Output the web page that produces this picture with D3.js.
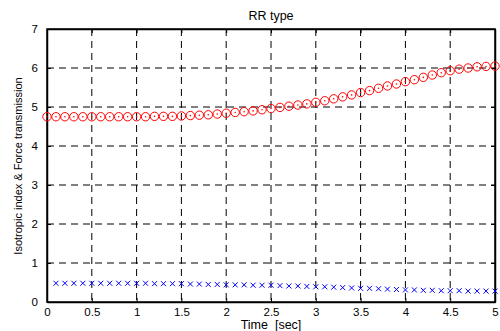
<!DOCTYPE html>
<html><head><meta charset="utf-8">
<script src="https://cdn.jsdelivr.net/npm/d3@7"></script>
<style>body{margin:0;background:#fff}svg{display:block}text{font-family:"Liberation Sans",Arial,sans-serif}</style>
</head><body><svg id="c" width="500" height="331"></svg>
<script>
const title = "RR type";
const xLabel = "Time  [sec]";
const yLabel = "Isotropic index & Force transmission";
const xTicks = [0,0.5,1,1.5,2,2.5,3,3.5,4,4.5,5];
const yTicks = [0,1,2,3,4,5,6,7];
const timeRed = [0,0.1,0.2,0.3,0.4,0.5,0.6,0.7,0.8,0.9,1,1.1,1.2,1.3,1.4,1.5,1.6,1.7,1.8,1.9,2,2.1,2.2,2.3,2.4,2.5,2.6,2.7,2.8,2.9,3,3.1,3.2,3.3,3.4,3.5,3.6,3.7,3.8,3.9,4,4.1,4.2,4.3,4.4,4.5,4.6,4.7,4.8,4.9,5];
const forceTrans = [4.75,4.75,4.75,4.75,4.75,4.75,4.75,4.75,4.75,4.75,4.75,4.75,4.76,4.76,4.76,4.77,4.78,4.79,4.8,4.82,4.84,4.86,4.88,4.9,4.93,4.96,4.99,5.02,5.05,5.08,5.12,5.16,5.21,5.26,5.31,5.37,5.42,5.48,5.54,5.59,5.65,5.7,5.76,5.82,5.88,5.93,5.97,6.0,6.03,6.04,6.05];
const timeBlue = [0.1,0.2,0.3,0.4,0.5,0.6,0.7,0.8,0.9,1,1.1,1.2,1.3,1.4,1.5,1.6,1.7,1.8,1.9,2,2.1,2.2,2.3,2.4,2.5,2.6,2.7,2.8,2.9,3,3.1,3.2,3.3,3.4,3.5,3.6,3.7,3.8,3.9,4,4.1,4.2,4.3,4.4,4.5,4.6,4.7,4.8,4.9,5];
const isoIndex = [0.48,0.48,0.48,0.48,0.48,0.48,0.48,0.48,0.48,0.48,0.48,0.47,0.47,0.47,0.47,0.46,0.46,0.45,0.45,0.44,0.44,0.44,0.43,0.43,0.43,0.42,0.41,0.41,0.4,0.39,0.39,0.38,0.37,0.36,0.35,0.35,0.34,0.33,0.32,0.31,0.31,0.3,0.3,0.29,0.29,0.29,0.28,0.28,0.28,0.28];

const L=47, R=495, T=29, B=302;
const svg = d3.select("#c");
const x = d3.scaleLinear().domain([0,5]).range([L,R]);
const y = d3.scaleLinear().domain([0,7]).range([B,T]);

// grid
const g = svg.append("g");
g.selectAll("line.gx").data(xTicks.slice(1,-1)).enter().append("line")
 .attr("x1",d=>x(d)).attr("x2",d=>x(d)).attr("y1",T).attr("y2",B)
 .attr("stroke","#000").attr("stroke-width",1).attr("stroke-dasharray","7,5");
g.selectAll("line.gy").data(yTicks.slice(1,-1)).enter().append("line")
 .attr("y1",d=>y(d)).attr("y2",d=>y(d)).attr("x1",L).attr("x2",R)
 .attr("stroke","#000").attr("stroke-width",1).attr("stroke-dasharray","7,5");

// axes
const fmt = d=>String(d);
const xa = svg.append("g").attr("transform",`translate(0,${B})`)
 .call(d3.axisBottom(x).tickValues(xTicks).tickFormat(fmt).tickSizeInner(-4).tickSizeOuter(0).tickPadding(6));
const xt = svg.append("g").attr("transform",`translate(0,${T})`)
 .call(d3.axisTop(x).tickValues(xTicks).tickFormat("").tickSizeInner(-4).tickSizeOuter(0));
const ya = svg.append("g").attr("transform",`translate(${L},0)`)
 .call(d3.axisLeft(y).tickValues(yTicks).tickFormat(fmt).tickSizeInner(-4).tickSizeOuter(0).tickPadding(9));
const yr = svg.append("g").attr("transform",`translate(${R},0)`)
 .call(d3.axisRight(y).tickValues(yTicks).tickFormat("").tickSizeInner(-4).tickSizeOuter(0));
[xa,xt,ya,yr].forEach(a=>{
  a.selectAll("path").attr("stroke","#000").attr("stroke-width",1.5);
  a.selectAll("line").attr("stroke","#000");
  a.selectAll("text").attr("fill","#000").style("font-size","11.5px").style("font-family","Liberation Sans, Arial, sans-serif");
});
svg.append("rect").attr("x",L).attr("y",T).attr("width",R-L).attr("height",B-T)
 .attr("fill","none").attr("stroke","#000").attr("stroke-width",1.5);

// red circles
const red = timeRed.map((t,i)=>({t,v:forceTrans[i]}));
svg.append("g").selectAll("circle.o").data(red).enter().append("circle")
 .attr("cx",d=>x(d.t)).attr("cy",d=>y(d.v)).attr("r",4.2)
 .attr("fill","none").attr("stroke","#ff0000").attr("stroke-width",1);
svg.append("g").selectAll("circle.d").data(red).enter().append("circle")
 .attr("cx",d=>x(d.t)).attr("cy",d=>y(d.v)).attr("r",0.8).attr("fill","#ff0000");

// blue x
const blue = timeBlue.map((t,i)=>({t,v:isoIndex[i]}));
const s=2.5;
svg.append("g").selectAll("path").data(blue).enter().append("path")
 .attr("d",d=>{const cx=x(d.t),cy=y(d.v);return `M${cx-s},${cy-s}L${cx+s},${cy+s}M${cx-s},${cy+s}L${cx+s},${cy-s}`;})
 .attr("stroke","#0000ff").attr("stroke-width",1).attr("fill","none");

// labels
svg.append("text").attr("x",(L+R)/2).attr("y",20).attr("text-anchor","middle").style("font-size","12.5px").text(title);
svg.append("text").attr("x",(L+R)/2).attr("y",329).attr("text-anchor","middle").style("font-size","12.5px").style("white-space","pre").text(xLabel);
svg.append("text").attr("transform",`translate(22,166) rotate(-90)`).attr("text-anchor","middle").style("font-size","11px").text(yLabel);
</script></body></html>
